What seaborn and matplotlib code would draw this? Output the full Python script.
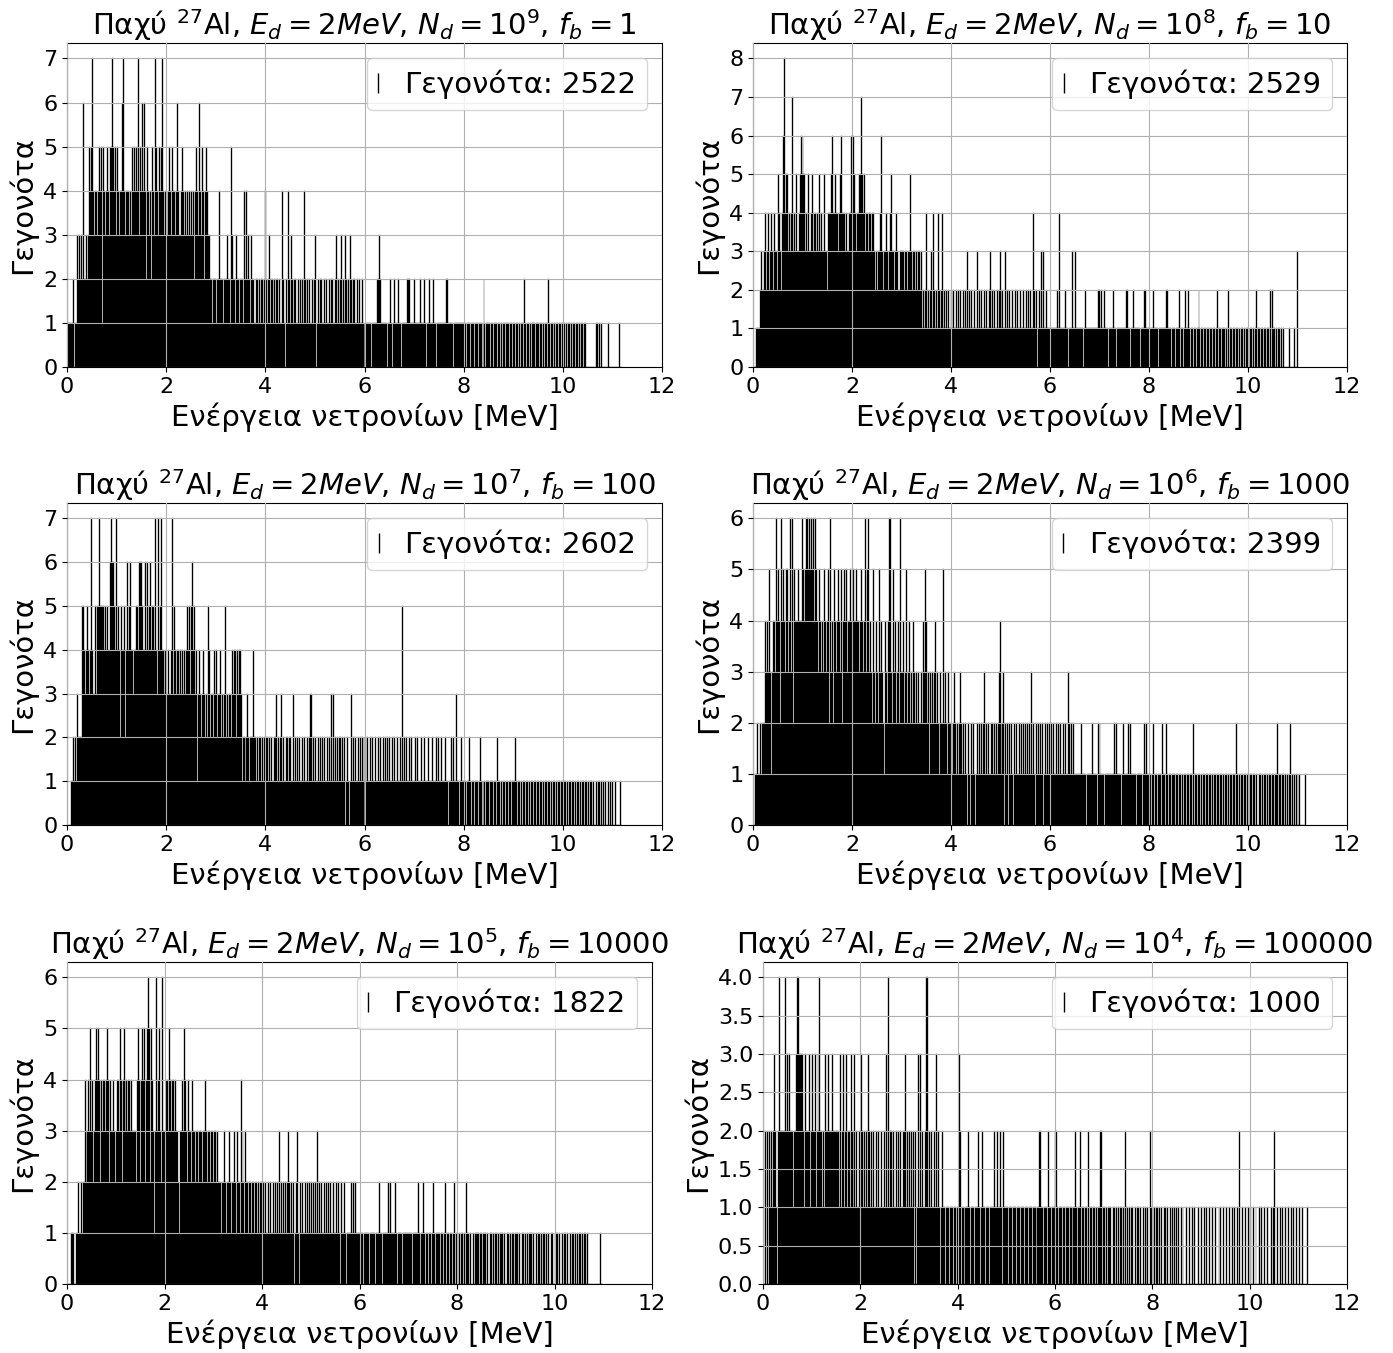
import numpy as np
import pandas as pd
import matplotlib
matplotlib.use("Agg")
import matplotlib.pyplot as plt
from matplotlib.lines import Line2D
from matplotlib.ticker import MultipleLocator
import seaborn as sns

# ---------------- data ----------------
bin_width = 0.02  # MeV per histogram bin

nd_exponents = [9, 8, 7, 6, 5, 4]
fb_values = [1, 10, 100, 1000, 10000, 100000]
event_totals = [2522, 2529, 2602, 2399, 1822, 1000]
y_tick_steps = [1, 1, 1, 1, 1, 0.5]

# bin counts, one string per 0.5 MeV (25 bins of 0.02 MeV)
counts_nd1e9 = [
    "1111112011" "3232326223" "23545", "7434434545" "1543454355" "75453",
    "5434467434" "3443435454" "54735", "4646425434" "2543754354" "57434",
    "4345435443" "4643345434" "34343", "4342454364" "3542454332" "21222",
    "1224222122" "2322153221" "32212", "2214224232" "1322112212" "12212",
    "4212312212" "1221211421" "02142", "1321221121" "2121421212" "11212",
    "3012122112" "1211212211" "23121", "2312132121" "3212211212" "11211",
    "1111111011" "1112232111" "11101", "1210121112" "1101111122" "21111",
    "2111112111" "2101121112" "11011", "1111111221" "1111011111" "11111",
    "1101110111" "0111011101" "21011", "1101101110" "1101011011" "10110",
    "1101101011" "0210110101" "11011", "1011010110" "2101101011" "01101",
    "1101011010" "1101101011" "01100", "0000000011" "0101000000" "01000",
    "0000000100",
]
counts_nd1e8 = [
    "0001111232" "2342342343" "24332", "5432468455" "3434734353" "34565",
    "6553435334" "5344343534" "33533", "2444564454" "4345644434" "33446",
    "4654344557" "5453443443" "44323", "2334632334" "3234533234" "32233",
    "2332332335" "3233232332" "31212", "4121231421" "2142124121" "21211",
    "2121121212" "1121213121" "21121", "1312121121" "2112312121" "12123",
    "2121131212" "1121121211" "21121", "1212121142" "1201213131" "12111",
    "1111111214" "1111121101" "11311", "3111111101" "2111111111" "11122",
    "1121121110" "1111211011" "11111", "1122110112" "1111110111" "22111",
    "1111211110" "1111111221" "11011", "1011120110" "1211210110" "11011",
    "2101101101" "1011011012" "01101", "1101020110" "1101101011" "01011",
    "1011010120" "1101101101" "10202", "1101011010" "1000001000" "01003",
]
counts_nd1e7 = [
    "0000112121" "3222255434" "54347", "4335355755" "5545454467" "66547",
    "4542544524" "4645644344" "55466", "6544646456" "4554743745" "74434",
    "3343347354" "3443434343" "45453", "5645341343" "2343232542" "33243",
    "4233423235" "2323324344" "24344", "3122122321" "2224221212" "21212",
    "1221212112" "2312123121" "12212", "2113121212" "1121211212" "33121",
    "2112121212" "1121213131" "21212", "2121201210" "1312121121" "21212",
    "1212112121" "1211212112" "12121", "2112121121" "1215121211" "21211",
    "1212111211" "2111211121" "11212", "1121112110" "1121211311" "01211",
    "1101121011" "0111012101" "11011", "1011101102" "1101011011" "01101",
    "1121011010" "1101101011" "01101", "1011010110" "1101011010" "11011",
    "0110101101" "1010110101" "10110", "1011010010" "1101001010" "01010",
    "1001000010",
]
counts_nd1e6 = [
    "0011211212" "2243435313" "44364", "5426454355" "3463625444" "54446",
    "4545665656" "5646543543" "43543", "4526342543" "4543524545" "34454",
    "4544544345" "4346356343" "25324", "3253432143" "2466325342" "34263",
    "1342352342" "3243232322" "32435", "4231323234" "2321322523" "21322",
    "2123212123" "2121210210" "21210", "1212121231" "2121122121" "21234",
    "2123021202" "1210212112" "12121", "2121213121" "0212121201" "21212",
    "1212112121" "2112121132" "12121", "1111112111" "1011111211" "11021",
    "2111101111" "1111121211" "11012", "1111212111" "1101111101" "21211",
    "1101201101" "1102110210" "11011", "1011011010" "1101101102" "01101",
    "1101011011" "0110101101" "10110", "1011010110" "1102101011" "01101",
    "1011011010" "0110101101" "01101", "1011201101" "1010101201" "01010",
    "101000001",
]
counts_nd1e5 = [
    "0000111001" "1211212242" "33435", "3423454542" "4344345424" "33432",
    "3443542453" "4434434333" "32454", "2454524565" "2543136345" "32633",
    "3244354344" "3433213343" "54324", "3324332332" "3332333432" "33233",
    "2332322212" "2321223212" "23213", "2214232132" "2122122122" "12122",
    "1212112121" "1212121312" "11212", "1232121201" "2310212112" "12121",
    "2121213121" "1211212121" "21121", "1212102112" "1011112121" "21111",
    "1111011111" "0111110111" "21101", "1111212111" "1210111110" "11111",
    "1111011111" "2101121011" "01101", "2101101101" "1012011011" "01201",
    "1010110102" "1101001011" "01101", "1011101001" "1010110101" "11010",
    "0110101101" "0110100110" "10101", "1101001011" "0101101010" "01100",
    "1011010010" "1101001011" "01010", "1101011010" "0000000000" "00100",
]
counts_nd1e4 = [
    "0020202121" "2321024212" "22242", "3232221223" "4433332132" "22312",
    "3223123242" "2121322322" "23222", "2221312312" "3122132123" "12112",
    "1321212132" "1212112121" "12112", "1314121212" "1121212112" "23121",
    "2121202013" "1312112434" "12121", "1213121012" "1101110111" "01101",
    "1320111011" "1210111011" "12101", "2110111011" "1121121102" "10211",
    "1101110111" "0111011101" "11011", "1011101112" "2110111021" "10111",
    "2210111011" "0111011011" "12101", "1201101102" "0110110101" "12201",
    "1010110100" "1101010110" "10201", "0101100101" "1010010110" "10021",
    "1010110101" "0011010010" "10101", "0100101000" "1001001010" "00100",
    "1001010010" "0100100010" "10010", "0100100101" "0010200100" "10010",
    "1001001000" "1010010010" "00101", "2001001010" "0100100100" "10010",
    "0100100001",
]
panel_counts = [counts_nd1e9, counts_nd1e8, counts_nd1e7,
                counts_nd1e6, counts_nd1e5, counts_nd1e4]


def decode(chunks):
    digits = "".join(chunks)
    return np.array([int(c) for c in digits], dtype=float)


# ---------------- figure ----------------
W, H = 1393, 1353
fig, axes = plt.subplots(3, 2, figsize=(W / 100, H / 100), dpi=100)

boxes = [
    (67, 662, 43, 367), (753, 1347, 43, 367),
    (67, 662, 503, 825), (753, 1347, 503, 825),
    (67, 652, 962, 1284), (763, 1347, 962, 1284),
]

for i, ax in enumerate(axes.flat):
    counts = decode(panel_counts[i])
    n = len(counts)
    df = pd.DataFrame({"energy": (np.arange(n) + 0.5) * bin_width,
                       "events": counts})
    sns.histplot(data=df, x="energy", weights="events",
                 binwidth=bin_width, binrange=(0, n * bin_width), ax=ax,
                 color="black", alpha=1.0, linewidth=0.25,
                 edgecolor="black", element="bars")
    l, r, t, b = boxes[i]
    ax.set_position([l / W, 1 - b / H, (r - l) / W, (b - t) / H])
    ax.set_xlim(0, 12)
    ax.set_xticks(np.arange(0, 13, 2))
    ax.yaxis.set_major_locator(MultipleLocator(y_tick_steps[i]))
    ax.set_axisbelow(False)
    ax.grid(True, color="#b0b0b0", linewidth=0.8)
    ax.tick_params(labelsize=16)
    ax.set_xlabel("Ενέργεια νετρονίων [MeV]", fontsize=21)
    ax.set_ylabel("Γεγονότα", fontsize=21)
    ax.set_title(
        f"Παχύ $^{{27}}$Al, $E_d = 2MeV$, $N_d = 10^{{{nd_exponents[i]}}}$, "
        f"$f_b = {fb_values[i]}$", fontsize=21)
    handle = Line2D([0], [0], marker="|", color="black", linestyle="None",
                    markersize=14.5, markeredgewidth=1.0)
    ax.legend(handles=[handle], labels=[f"Γεγονότα: {event_totals[i]}"],
              loc="upper right", fontsize=21, handlelength=0.0,
              handletextpad=0.9)

fig.savefig("out.png", dpi=100)
